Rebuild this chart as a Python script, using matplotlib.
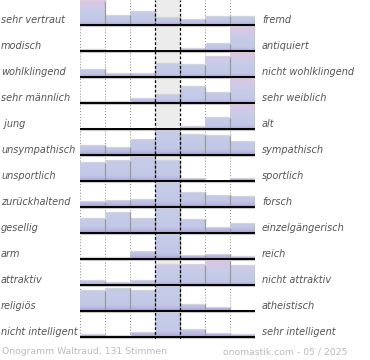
import numpy as np
import matplotlib
matplotlib.use("Agg")
import matplotlib.pyplot as plt
from matplotlib.colors import LinearSegmentedColormap

left_labels = ["sehr vertraut", "modisch", "wohlklingend", "sehr männlich", " jung",
               "unsympathisch", "unsportlich", "zurückhaltend", "gesellig", "arm",
               "attraktiv", "religiös", "nicht intelligent"]
right_labels = ["fremd", "antiquiert", "nicht wohlklingend", "sehr weiblich", "alt",
                "sympathisch", "sportlich", "forsch", "einzelgängerisch", "reich",
                "nicht attraktiv", "atheistisch", "sehr intelligent"]

# bar heights per row, 7 steps (24 = full row height; larger values are clipped)
values = [
    [24, 9.7, 13.3, 7.7, 5.7, 8.7, 8.7],
    [1.7, 0, 0, 0, 2.7, 7, 24],
    [7.7, 3.7, 3.7, 13, 12.3, 20, 24],
    [1.3, 1.3, 4.7, 8, 16, 10.7, 24],
    [0.5, 0, 0, 0, 2, 11, 24],
    [9.7, 7.7, 15, 40, 20, 19, 13],
    [18.3, 20, 36, 20.3, 2.3, 0, 2.3],
    [5.3, 6.7, 7.7, 40, 14.7, 11.7, 10.3],
    [14.3, 20.7, 14.3, 40, 13.7, 5.3, 9.7],
    [1.7, 1.7, 7.3, 40, 3.7, 4.7, 2.7],
    [4, 2.3, 4, 20.3, 20.3, 24, 19.7],
    [20, 22.7, 20.7, 40, 6.7, 3.3, 0.7],
    [2, 1, 4.7, 40, 7.7, 3.3, 2],
]
footer_left = "Onogramm Waltraud, 131 Stimmen"
footer_right = "onomastik.com - 05 / 2025"

FULL = 24.0
ROW = 26.0
W, H = 370, 360
PLOT_BOTTOM = 339

cmap = LinearSegmentedColormap.from_list("ono", [
    (0.0, "#a493ca"), (0.07, "#b8b9e0"), (0.15, "#c2c8e6"), (0.5, "#c5cce8"),
    (0.75, "#d0cae8"), (1.0, "#e0c5e4")])

fig = plt.figure(figsize=(W / 100, H / 100), dpi=100)
fig.patch.set_facecolor("white")
ax = fig.add_axes([80 / W, (H - PLOT_BOTTOM) / H, 175 / W, PLOT_BOTTOM / H])
ax.set_xlim(0, 7)
ax.set_ylim(PLOT_BOTTOM, 0)
ax.set_autoscale_on(False)
ax.axis("off")

ax.axvspan(3, 4, color="#ececec", zorder=0, lw=0)
for xv in [0, 1, 2, 5, 6, 7]:
    ax.axvline(xv, color="#8a8a8a", ls=(0, (1, 2)), lw=0.7, zorder=1)

for i, row in enumerate(values):
    base = ROW * i + 25
    g = max(row)
    for j, v in enumerate(row):
        if v <= 0:
            continue
        h = min(v, FULL)
        frac = np.linspace(0, h / g, 80).reshape(-1, 1)
        rgba = cmap(frac)
        ax.imshow(rgba, extent=[j, j + 1, base, base - h], origin="lower",
                  aspect="auto", interpolation="bilinear", zorder=2)
        ax.plot([j + 0.01, j + 1.03], [base - h - 0.6, base - h - 0.6],
                color="#d4d4d4", lw=0.9, zorder=2.5, solid_capstyle="butt")
        ax.plot([j + 1, j + 1], [base, base - h], color="#9a9a9a", lw=0.9,
                zorder=3, solid_capstyle="butt")
    ax.plot([0, 7], [base + 1.4, base + 1.4], color="#c8c8c8", lw=0.8, zorder=3.5)
    ax.plot([0, 7], [base, base], color="black", lw=1.4, zorder=4,
            solid_capstyle="butt")
    ty = 1 - (base - 5) / H
    fig.text(1 / W, ty, left_labels[i], ha="left", va="center", fontsize=7.05,
             style="italic", color="#555555", family="DejaVu Sans")
    fig.text(262 / W, ty, right_labels[i], ha="left", va="center", fontsize=7.05,
             style="italic", color="#555555", family="DejaVu Sans")

for xv in [3, 4]:
    ax.axvline(xv, color="black", ls=(0, (2.2, 1.6)), lw=0.9, zorder=5)

fig.text(2 / W, 1 - 352 / H, footer_left, ha="left", va="center", fontsize=6.7,
         color="#bbbbbb", family="DejaVu Sans")
fig.text(347 / W, 1 - 352 / H, footer_right, ha="right", va="center", fontsize=6.7,
         color="#bbbbbb", family="DejaVu Sans")

fig.savefig("out.png", dpi=100)
